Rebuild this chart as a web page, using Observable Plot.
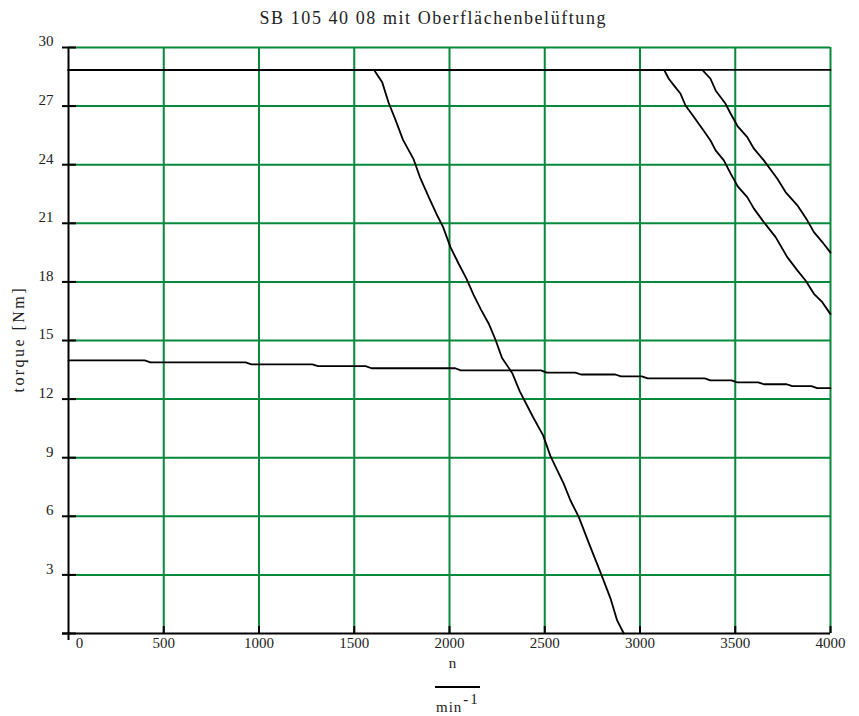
<!DOCTYPE html>
<html><head><meta charset="utf-8">
<script src="https://cdn.jsdelivr.net/npm/d3@7"></script>
<script src="https://cdn.jsdelivr.net/npm/@observablehq/plot@0.6"></script>
<style>body{margin:0;background:#fff;} svg{display:block;} svg text{font-family:"Liberation Serif","DejaVu Serif",serif !important;}</style>
</head><body><div id="chart"></div>
<script>
const titleText = "SB 105 40 08 mit Oberflächenbelüftung";
const yLabelText = "torque [Nm]";
const xLabelNum = "n";
const xLabelDen = "min";
const xLabelExp = "-1";

const nTicks = [0, 500, 1000, 1500, 2000, 2500, 3000, 3500, 4000];
const torqueTicks = [3, 6, 9, 12, 15, 18, 21, 24, 27, 30];

// maximum torque line
const nMax = [0, 4000];
const tMax = [28.85, 28.85];

// curve A (steep drop to zero)
const nA = [0, 1604, 1646, 1681, 1716, 1756, 1812, 1844, 1891, 1931, 1966, 2005, 2048, 2089, 2127, 2166, 2206, 2241, 2276, 2329, 2369, 2439, 2492, 2530, 2600, 2635, 2679, 2731, 2793, 2845, 2880, 2915];
const tA = [28.85, 28.85, 28.24, 27.16, 26.31, 25.27, 24.27, 23.38, 22.34, 21.49, 20.82, 19.78, 18.93, 18.17, 17.32, 16.57, 15.86, 15.05, 14.10, 13.34, 12.40, 11.07, 10.13, 9.08, 7.66, 6.81, 5.96, 4.64, 3.12, 1.80, 0.67, 0.0];

// curve B
const nB = [0, 3127, 3151, 3178, 3213, 3239, 3283, 3327, 3370, 3397, 3440, 3476, 3513, 3563, 3598, 3650, 3712, 3773, 3826, 3869, 3913, 3957, 4000];
const tB = [28.85, 28.85, 28.4, 28.06, 27.63, 27.03, 26.44, 25.84, 25.24, 24.73, 24.22, 23.54, 22.89, 22.34, 21.75, 21.06, 20.29, 19.27, 18.59, 18.07, 17.39, 16.96, 16.35];

// curve C
const nC = [0, 3327, 3370, 3397, 3449, 3476, 3513, 3563, 3598, 3650, 3721, 3764, 3826, 3878, 3913, 3957, 4000];
const tC = [28.85, 28.85, 28.4, 27.8, 27.12, 26.61, 25.96, 25.41, 24.82, 24.22, 23.28, 22.6, 21.92, 21.15, 20.55, 20.04, 19.5];

// lower (continuous) curve
const nLow = [0, 400, 430, 930, 960, 1280, 1310, 1560, 1590, 2030, 2060, 2480, 2510, 2660, 2690, 2870, 2900, 3010, 3040, 3340, 3370, 3480, 3510, 3620, 3650, 3770, 3800, 3900, 3930, 4000];
const tLow = [13.98, 13.98, 13.88, 13.88, 13.78, 13.78, 13.69, 13.69, 13.58, 13.58, 13.47, 13.47, 13.36, 13.36, 13.26, 13.26, 13.16, 13.16, 13.06, 13.06, 12.96, 12.96, 12.86, 12.86, 12.76, 12.76, 12.66, 12.66, 12.56, 12.56];

const rows = [];
function addSeries(name, ns, ts) { ns.forEach((n, i) => rows.push({series: name, n, torque: ts[i]})); }
addSeries("max", nMax, tMax);
addSeries("A", nA, tA);
addSeries("B", nB, tB);
addSeries("C", nC, tC);
addSeries("low", nLow, tLow);

const serif = "Liberation Serif, DejaVu Serif, serif";
const green = "#07893b";
const ink = "#222";
const fmt = d3.format("d");

const plot = Plot.plot({
  width: 859, height: 716,
  marginLeft: 68, marginRight: 29, marginTop: 47, marginBottom: 83,
  style: {fontFamily: serif, fontSize: "15px", color: ink, background: "#fff"},
  x: {domain: [0, 4000], axis: null},
  y: {domain: [0, 30], axis: null},
  marks: [
    Plot.gridX(nTicks.slice(1), {stroke: green, strokeOpacity: 1, strokeWidth: 2}),
    Plot.gridY(torqueTicks, {stroke: green, strokeOpacity: 1, strokeWidth: 2}),
    Plot.line(rows, {x: "n", y: "torque", z: "series", stroke: "#000", strokeWidth: 1.8, curve: "linear"}),
    Plot.ruleX([0], {stroke: "#000", strokeWidth: 2, insetBottom: -7}),
    Plot.ruleY([0], {stroke: "#000", strokeWidth: 2, insetLeft: -6}),
    Plot.axisY([0, ...torqueTicks], {tickSize: 14, dx: 8, text: null, label: null, stroke: "#000", strokeWidth: 2}),
    Plot.axisX(nTicks.slice(1), {tickSize: 7, dy: -7, text: null, label: null, stroke: "#000", strokeWidth: 2}),
    Plot.axisY(torqueTicks, {tickSize: 0, tickPadding: 15, dy: -6, label: null, fill: ink, tickFormat: fmt}),
    Plot.axisX(nTicks.slice(1), {tickSize: 0, tickPadding: 4, label: null, fill: ink, tickFormat: fmt}),
    Plot.axisX([nTicks[0]], {tickSize: 0, tickPadding: 4, dx: 11, label: null, fill: ink, tickFormat: fmt}),
    Plot.text([titleText], {text: d => d, frameAnchor: "top", lineAnchor: "middle", dy: -29, dx: -17, fill: ink, fontSize: 18}),
    Plot.text([yLabelText], {text: d => d, frameAnchor: "left", textAnchor: "middle", lineAnchor: "middle", dx: -50, rotate: -90, fill: ink, fontSize: 16}),
    Plot.text([xLabelNum], {text: d => d, frameAnchor: "bottom", lineAnchor: "middle", dy: 30, dx: 3, fill: ink, fontSize: 15})
  ]
});

document.getElementById("chart").appendChild(plot);

const svg = d3.select(plot);
// stretch the title and axis label to the original's lettering width
svg.selectAll("text").filter(function() { return this.textContent === titleText; })
  .attr("textLength", 346).attr("lengthAdjust", "spacing");
svg.selectAll("text").filter(function() { return this.textContent === yLabelText; })
  .attr("textLength", 104).attr("lengthAdjust", "spacing");

// fraction bar and unit (min^-1) below the numerator
const cx = 457;
svg.append("line").attr("x1", cx - 22).attr("x2", cx + 23).attr("y1", 687).attr("y2", 687)
  .attr("stroke", "#000").attr("stroke-width", 2);
const unit = svg.append("text").attr("x", cx - 21).attr("y", 712).attr("text-anchor", "start")
  .attr("font-size", 15).attr("fill", ink);
unit.append("tspan").attr("letter-spacing", 1).text(xLabelDen);
unit.append("tspan").attr("dy", -8).attr("dx", 1).attr("font-weight", "bold").text(xLabelExp.charAt(0));
unit.append("tspan").attr("dx", 2).text(xLabelExp.slice(1));
</script>
</body></html>
